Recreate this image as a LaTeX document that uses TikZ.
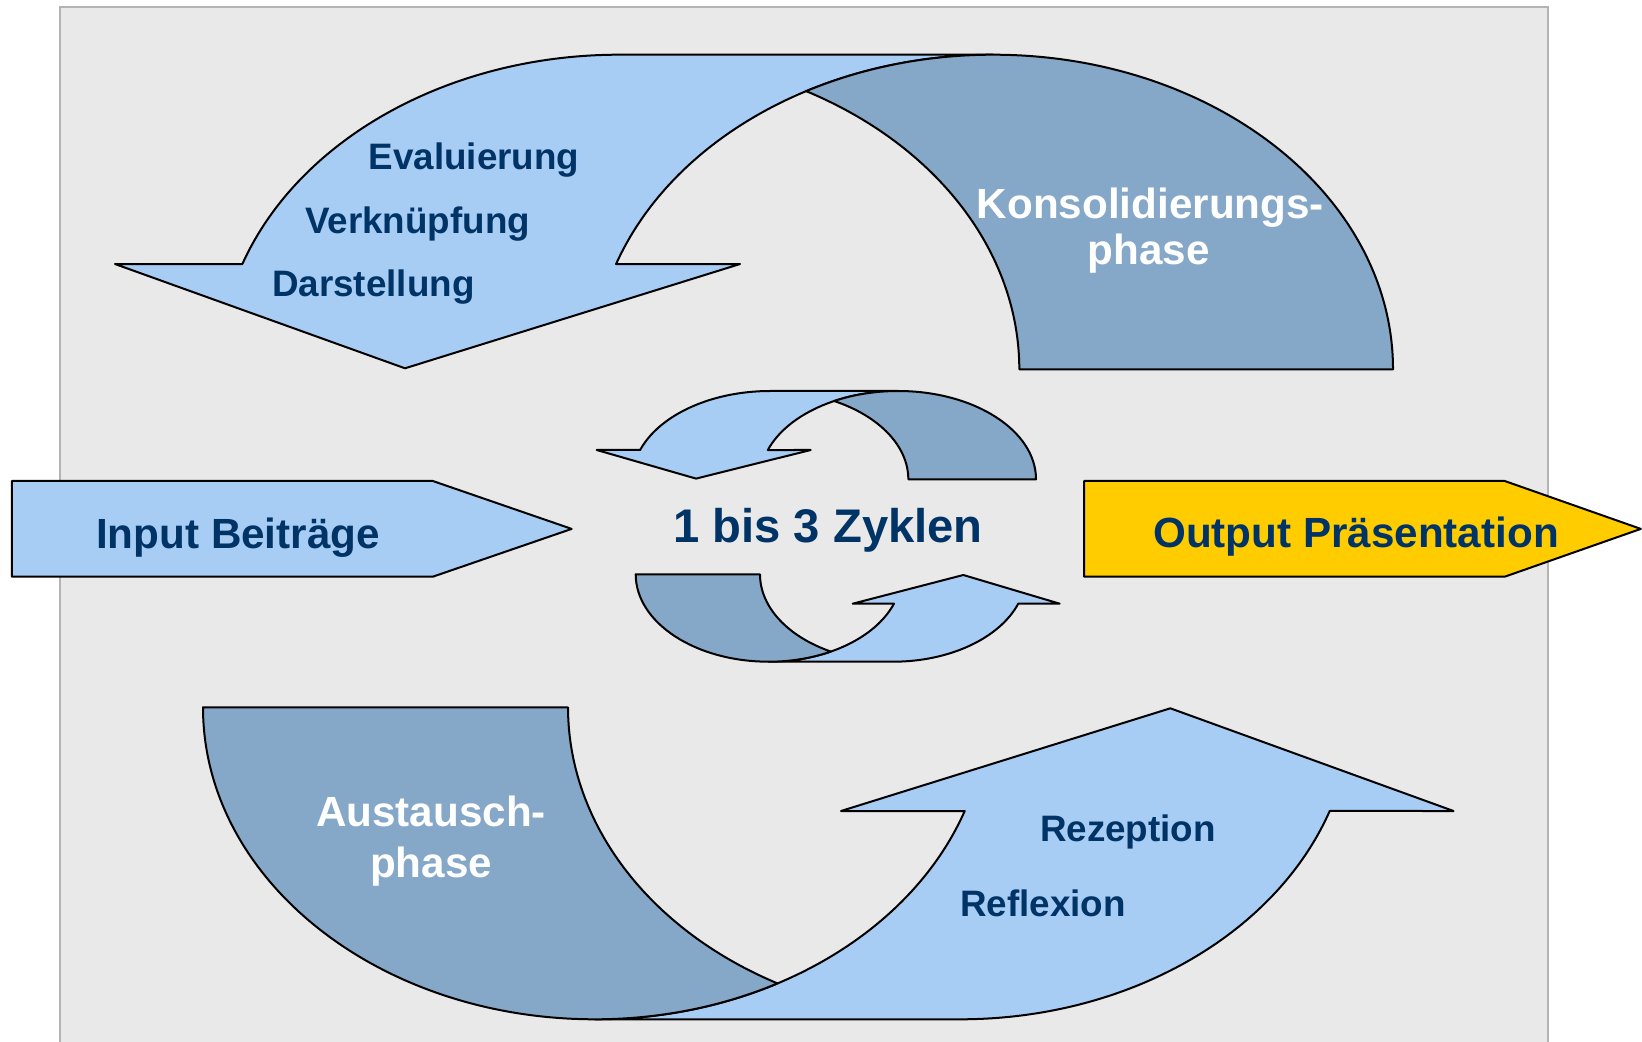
\documentclass[tikz,border=0pt]{standalone}
\usepackage{fontspec}
\setmainfont{Liberation Sans}
\definecolor{lightblu}{RGB}{167,205,245}
\definecolor{darkblu}{RGB}{133,167,200}
\definecolor{textblu}{RGB}{0,51,102}
\definecolor{outyellow}{RGB}{255,204,0}
\definecolor{bggray}{RGB}{233,233,233}
\definecolor{framegray}{RGB}{180,180,180}
\tikzset{
  framebox/.style={fill=bggray, draw=framegray, line width=1pt},
  lightband/.style={fill=lightblu, draw=black, line width=1pt, line join=round},
  darkband/.style={fill=darkblu, draw=black, line width=1pt, line join=round},
  yellowarrow/.style={fill=outyellow, draw=black, line width=1pt, line join=round},
  smalltxt/.style={inner sep=0pt, anchor=base, text=textblu, font=\fontsize{18.4pt}{22pt}\selectfont\bfseries},
  medtxt/.style={inner sep=0pt, anchor=base, text=textblu, font=\fontsize{21.1pt}{25pt}\selectfont\bfseries},
  bigtxt/.style={inner sep=0pt, anchor=base, text=textblu, font=\fontsize{23.6pt}{28pt}\selectfont\bfseries},
  whitetxt/.style={inner sep=0pt, anchor=base, text=white, font=\fontsize{21.1pt}{25pt}\selectfont\bfseries},
}
\begin{document}
\begin{tikzpicture}[x=0.5pt,y=-0.5pt]
\clip (0,0) rectangle (1642,1042);
\fill[white] (0,0) rectangle (1642,1042);
% background frame
\draw[framebox] (59.5,6.7) rectangle (1548,1070);

% input / output arrows
\draw[lightband] (11.8,481) -- (432.8,481) -- (571.7,528.9) -- (432.8,576.7) -- (11.8,576.7) -- cycle;
\draw[yellowarrow] (1084,481) -- (1504.7,481) -- (1640.8,528.9) -- (1504.7,576.7) -- (1084,576.7) -- cycle;

% big top curved arrow
\draw[lightband] (115,264.03) -- (242.36,264.03)
  arc[start angle=199.55, end angle=270, x radius=400, y radius=314.6]
  -- (993,54.7)
  arc[start angle=270, end angle=199.55, x radius=400, y radius=314.6]
  -- (740,264.03) -- (405,368.3) -- cycle;
\draw[darkband] (1393,369.3)
  arc[start angle=360, end angle=242.15, x radius=400, y radius=314.6]
  arc[start angle=297.85, end angle=360, x radius=400, y radius=314.6]
  -- cycle;

% small top curved arrow
\draw[lightband] (596.7,450) -- (640.12,450)
  arc[start angle=199.38, end angle=270, x radius=138, y radius=88.3]
  -- (898,391)
  arc[start angle=270, end angle=199.38, x radius=138, y radius=88.3]
  -- (810.7,450) -- (696,478.6) -- cycle;
\draw[darkband] (1036,479.3)
  arc[start angle=360, end angle=242.44, x radius=138, y radius=88.3]
  arc[start angle=297.56, end angle=360, x radius=138, y radius=88.3]
  -- cycle;

% small bottom curved arrow
\draw[lightband] (768.7,661.7) -- (893,661.7)
  arc[start angle=90, end angle=19.66, x radius=133, y radius=87.4]
  -- (1059.7,603.7) -- (963.3,575) -- (852.7,603.7) -- (893.95,603.7)
  arc[start angle=19.66, end angle=90, x radius=133, y radius=87.4]
  -- cycle;
\draw[darkband] (635.7,574.3)
  arc[start angle=180, end angle=62.14, x radius=133, y radius=87.4]
  arc[start angle=117.86, end angle=180, x radius=133, y radius=87.4]
  -- cycle;

% big bottom curved arrow
\draw[lightband] (595,1019.3) -- (960,1019.3)
  arc[start angle=90, end angle=19.41, x radius=392, y radius=312]
  -- (1453.5,811) -- (1170.3,708.3) -- (841,811) -- (964.7,811)
  arc[start angle=19.41, end angle=90, x radius=392, y radius=312]
  -- cycle;
\draw[darkband] (203,707.3)
  arc[start angle=180, end angle=62.25, x radius=392, y radius=312]
  arc[start angle=117.75, end angle=180, x radius=392, y radius=312]
  -- cycle;

% texts
\node[smalltxt] (eval) at (474.1,170) {Evaluierung};
\node[smalltxt] (verk) at (417.65,233.3) {Verknüpfung};
\node[smalltxt] (dars) at (373.3,296.7) {Darstellung};
\node[whitetxt] (konsa) at (1150.4,218.3) {Konsolidierungs-};
\node[whitetxt] (konsb) at (1148.8,265) {phase};
\node[medtxt] (input) at (238.05,548.3) {Input Beiträge};
\node[bigtxt] (zyklen) at (828,542.7) {1 bis 3 Zyklen};
\node[medtxt] (output) at (1356,547.7) {Output Präsentation};
\node[whitetxt] (ausa) at (431,826.7) {Austausch-};
\node[whitetxt] (ausb) at (431,877.3) {phase};
\node[smalltxt] (rez) at (1128,841.7) {Rezeption};
\node[smalltxt] (refl) at (1043.1,916) {Reflexion};
\end{tikzpicture}
\end{document}
